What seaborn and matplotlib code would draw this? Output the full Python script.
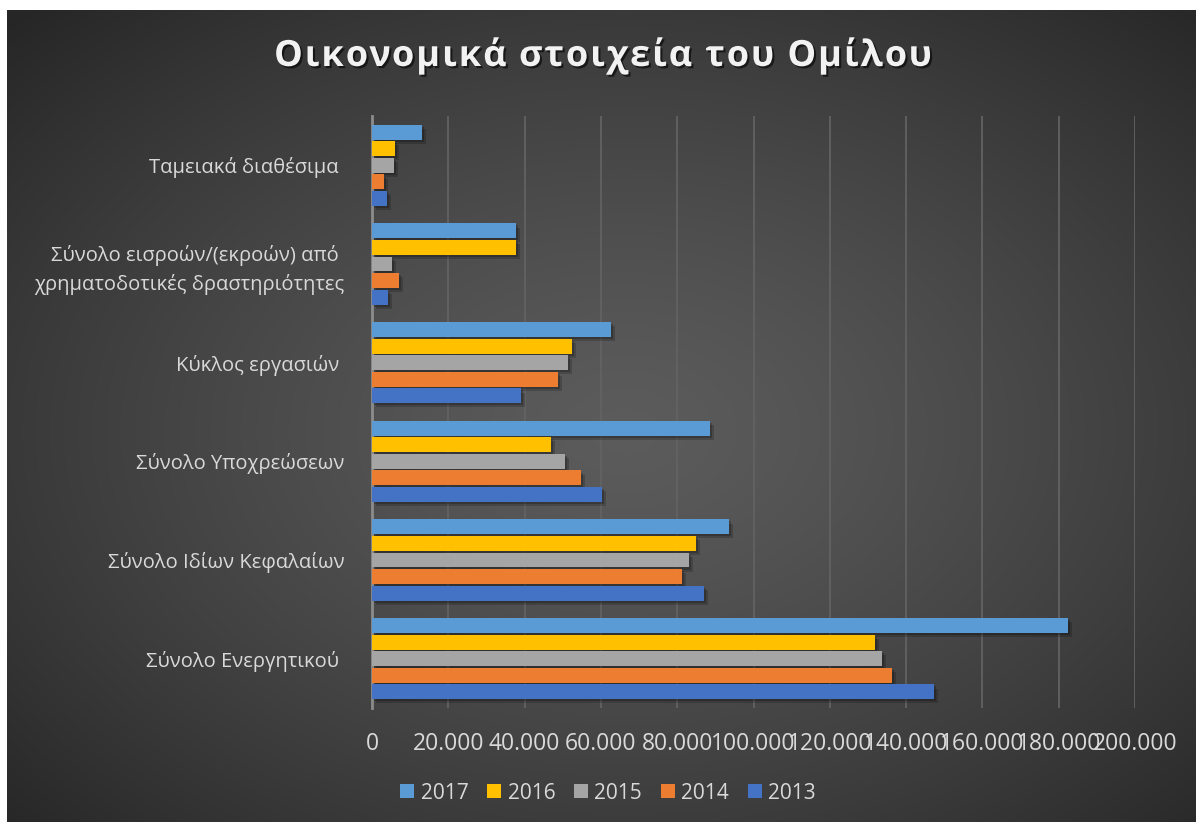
import numpy as np
import pandas as pd
import matplotlib
matplotlib.use("Agg")
import matplotlib.pyplot as plt
import matplotlib.patheffects as pe
from matplotlib.patches import Patch
from matplotlib.ticker import FixedLocator, FuncFormatter
import seaborn as sns

# Figures in thousands of euros
categories = [
    "Ταμειακά διαθέσιμα ",
    "Σύνολο εισροών/(εκροών) από \nχρηματοδοτικές δραστηριότητες",
    "Κύκλος εργασιών ",
    "Σύνολο Υποχρεώσεων",
    "Σύνολο Ιδίων Κεφαλαίων",
    "Σύνολο Ενεργητικού ",
]
years = ["2017", "2016", "2015", "2014", "2013"]
values_2017 = [13100, 37700, 62600, 88600, 93600, 182400]
values_2016 = [6000, 37700, 52400, 46900, 84900, 131800]
values_2015 = [5800, 5200, 51400, 50600, 83100, 133700]
values_2014 = [3100, 7100, 48800, 54800, 81300, 136300]
values_2013 = [3900, 4200, 39100, 60300, 87000, 147300]
x_ticks = [0, 20000, 40000, 60000, 80000, 100000, 120000, 140000, 160000, 180000, 200000]
palette = ["#5b9bd5", "#ffc000", "#a5a5a5", "#ed7d31", "#4472c4"]
title = "Οικονομικά στοιχεία του Ομίλου"

series = [values_2017, values_2016, values_2015, values_2014, values_2013]
df = pd.DataFrame(
    [(c, y, v) for y, vals in zip(years, series) for c, v in zip(categories, vals)],
    columns=["category", "year", "value"],
)

sns.set_theme(style="dark")
plt.rcParams["font.family"] = ["Open Sans", "DejaVu Sans"]
text_color = "#d9d9d9"

W, H = 1196, 822
fig = plt.figure(figsize=(W / 100, H / 100), dpi=100, facecolor="white")

# dark panel with a soft radial glow
bg = fig.add_axes([7 / W, 0, 1 - 7 / W, 1 - 10 / H])
yy, xx = np.mgrid[0:1:400j, 0:1:580j]
r = np.sqrt(((xx - 0.52) / 0.75) ** 2 + ((yy - 0.52) / 0.75) ** 2)
shade = np.clip(0.36 - 0.22 * r ** 1.3, 0.15, 0.36)
bg.imshow(np.dstack([shade] * 3), aspect="auto", extent=[0, 1, 0, 1], interpolation="bilinear")
bg.set_axis_off()

ax = fig.add_axes([372 / W, 1 - 708 / H, (1135 - 372) / W, (708 - 116) / H])
ax.set_facecolor("none")
sns.barplot(
    data=df, x="value", y="category", hue="year", hue_order=years,
    order=categories, orient="h", palette=palette, width=0.84, gap=0.1,
    saturation=1, ax=ax, legend=False, zorder=3,
)
for patch in ax.patches:
    patch.set_linewidth(0)
    patch.set_path_effects([
        pe.SimplePatchShadow(offset=(3, -3), shadow_rgbFace="black", alpha=0.18),
        pe.SimplePatchShadow(offset=(1.5, -1.5), shadow_rgbFace="black", alpha=0.22),
        pe.Normal(),
    ])

ax.set_xlim(0, 200000)
ax.xaxis.set_major_locator(FixedLocator(x_ticks))
ax.xaxis.set_major_formatter(FuncFormatter(lambda v, p: f"{int(v):,}".replace(",", ".")))
ax.grid(axis="x", color="#626262", linewidth=1.3, zorder=0)
ax.grid(axis="y", visible=False)
for side in ["top", "right", "bottom"]:
    ax.spines[side].set_visible(False)
ax.spines["left"].set_color("#8c8c8c")
ax.spines["left"].set_linewidth(2)
ax.set_xlabel("")
ax.set_ylabel("")
ax.tick_params(axis="y", length=0, pad=20, labelsize=14.5, labelcolor=text_color)
ax.tick_params(axis="x", length=0, pad=17, labelsize=16.5, labelcolor=text_color)
for lbl in ax.get_yticklabels():
    lbl.set_linespacing(1.45)

handles = [Patch(facecolor=c, edgecolor="none") for c in palette]
fig.legend(
    handles, years, loc="center", bbox_to_anchor=(608 / W, 1 - 793 / H), ncol=5,
    frameon=False, fontsize=15, labelcolor=text_color, handlelength=0.68,
    handleheight=0.68, handletextpad=0.3, columnspacing=0.9,
)

# title drawn glyph by glyph to get the wide letter spacing
renderer = fig.canvas.get_renderer()
title_kw = dict(fontsize=26, fontweight="bold", color="#f2f2f2", va="center", ha="left")
shadow = [pe.withSimplePatchShadow(offset=(1.5, -1.5), shadow_rgbFace="black", alpha=0.6)]
spacing = 1.9
probe = fig.text(0, 0, title, **title_kw)
base_w = probe.get_window_extent(renderer).width
probe.remove()
total_w = base_w + spacing * (len(title) - 1)
x0 = 603 - total_w / 2
for i, ch in enumerate(title):
    if i:
        t = fig.text(0, 0, title[:i], **title_kw)
        prefix_w = t.get_window_extent(renderer).width
        t.remove()
    else:
        prefix_w = 0
    fig.text((x0 + prefix_w + spacing * i) / W, 1 - 57 / H, ch, path_effects=shadow, **title_kw)

fig.savefig("out.png", dpi=100, facecolor="white")
